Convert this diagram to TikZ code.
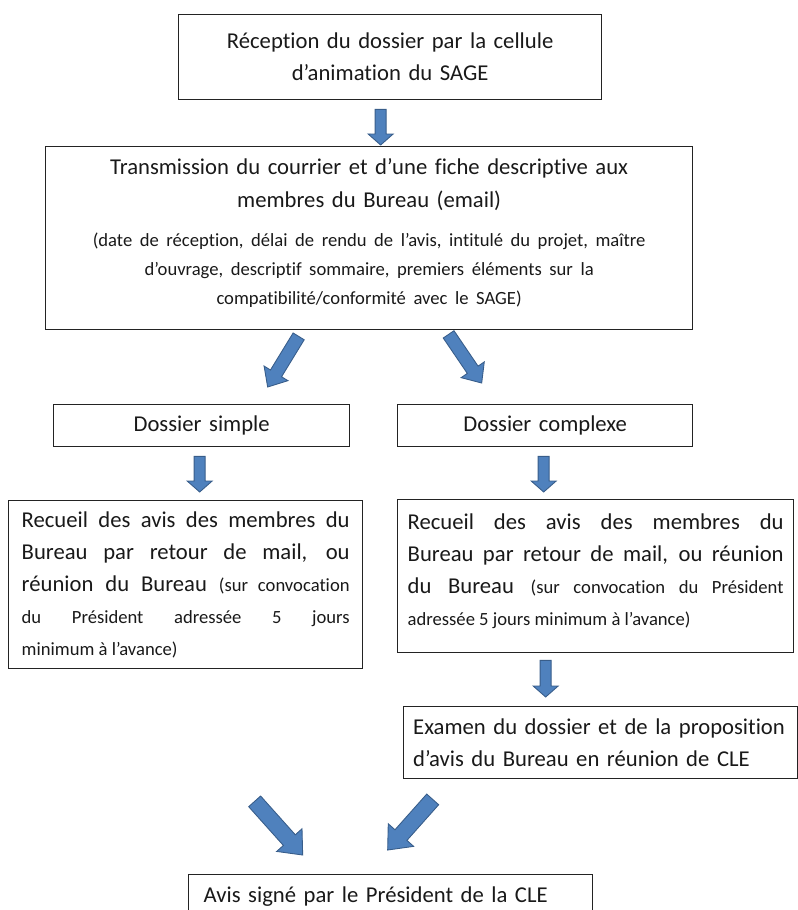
\documentclass[tikz,border=0pt]{standalone}
\usepackage{fontspec}
\setmainfont{Carlito}[Ligatures=NoCommon]
\usepackage{xcolor}
\usetikzlibrary{calc}
\definecolor{arrowblue}{RGB}{79,129,189}
\definecolor{arrowedge}{RGB}{56,93,138}
\definecolor{boxline}{RGB}{35,35,35}
\newcommand{\mainfnt}{\fontsize{12.9}{18.2}\selectfont}
\newcommand{\smallfnt}{\fontsize{10.6}{16.5}\selectfont}
\tolerance=10000
\hbadness=10000
\hfuzz=20pt

\begin{document}
\begin{tikzpicture}[x=0.02cm, y=-0.02cm]
	\tikzstyle{every node}=[font=\mainfnt, text=black!90]
	\tikzstyle{flowbox}=[draw=boxline, line width=0.8pt, anchor=north west, inner sep=0pt]
	% fat block arrow: shaft half width, head half width, head length
	\tikzset{fatarrow/.style n args={3}{draw=arrowedge, fill=arrowblue, line width=0.5pt,
		to path={($(\tikztostart)!#1!90:(\tikztotarget)$)
			-- ($(\tikztotarget)!#3!(\tikztostart)!#1!90:(\tikztotarget)$)
			-- ($(\tikztotarget)!#3!(\tikztostart)!#2!90:(\tikztotarget)$)
			-- (\tikztotarget)
			-- ($(\tikztotarget)!#3!(\tikztostart)!#2!-90:(\tikztotarget)$)
			-- ($(\tikztotarget)!#3!(\tikztostart)!#1!-90:(\tikztotarget)$)
			-- ($(\tikztostart)!#1!-90:(\tikztotarget)$) -- cycle}},
		downarrow/.style={fatarrow={0.11cm}{0.25cm}{0.22cm}},
		slantarrow/.style={fatarrow={0.13cm}{0.28cm}{0.32cm}},
		bigarrow/.style={fatarrow={0.16cm}{0.34cm}{0.40cm}}}
	\useasboundingbox (0,0) rectangle (798,910);
	\clip (0,0) rectangle (798,910);

	\node [flowbox, minimum width=8.46cm, minimum height=1.70cm, text width=8cm, align=center] (recep) at (178,14)
		{Réception du dossier par la cellule\\d’animation du SAGE};
	\node [flowbox, minimum width=12.94cm, minimum height=3.66cm, text width=12.5cm, align=center] (trans) at (45,146)
		{\baselineskip=18.8pt Transmission du courrier et d’une fiche descriptive aux\\membres du Bureau (email)\par
		\vspace{5.5pt}{\smallfnt (date de réception, délai de rendu de l’avis, intitulé du projet, maître\\d’ouvrage, descriptif sommaire, premiers éléments sur la\\compatibilité/conformité avec le SAGE)\par}\vspace{0.22cm}};
	\node [flowbox, minimum width=5.92cm, minimum height=0.84cm, text width=5.5cm, align=center] (simple) at (53,404) {Dossier simple};
	\node [flowbox, minimum width=5.90cm, minimum height=0.84cm, text width=5.5cm, align=center] (complexe) at (397,404) {Dossier complexe};
	\node [flowbox, minimum width=7.08cm, minimum height=3.36cm, text width=6.56cm, align=justify] (recueilA) at (8,500)
		{Recueil des avis des membres du\linebreak Bureau par retour de mail, ou\linebreak réunion du Bureau {\smallfnt (sur convocation\linebreak du Président adressée 5 jours\linebreak minimum à l’avance)}};
	\node [flowbox, minimum width=7.92cm, minimum height=3.06cm, text width=7.52cm, align=justify] (recueilB) at (397,499)
		{Recueil des avis des membres du\linebreak Bureau par retour de mail, ou réunion\linebreak du Bureau {\smallfnt (sur convocation du Président\linebreak adressée 5 jours minimum à l’avance)}\par\vspace{0.2cm}};
	\node [flowbox, minimum width=7.88cm, minimum height=1.44cm, text width=7.5cm, align=left] (examen) at (403,706)
		{Examen du dossier et de la proposition\\d’avis du Bureau en réunion de CLE};
	\node [flowbox, minimum width=8.08cm, minimum height=0.88cm, text width=7.48cm, align=left] (avis) at (188,874)
		{Avis signé par le Président de la CLE};

	\draw [downarrow] ([xshift=-0.19cm,yshift=-0.18cm]recep.south) to ([xshift=0.23cm,yshift=0.02cm]trans.north);
	\draw [slantarrow] ([xshift=-1.41cm,yshift=-0.12cm]trans.south) to ([xshift=1.32cm,yshift=0.34cm]simple.north);
	\draw [slantarrow] ([xshift=1.59cm,yshift=-0.08cm]trans.south) to ([xshift=-1.27cm,yshift=0.42cm]complexe.north);
	\draw [downarrow] ([xshift=-0.04cm,yshift=-0.18cm]simple.south) to ([xshift=0.28cm,yshift=0.16cm]recueilA.north);
	\draw [downarrow] ([xshift=-0.03cm,yshift=-0.18cm]complexe.south) to ([xshift=-1.04cm,yshift=0.14cm]recueilB.north);
	\draw [downarrow] ([xshift=-1.00cm,yshift=-0.14cm]recueilB.south) to ([xshift=-1.10cm,yshift=0.18cm]examen.north);
	\draw [bigarrow] ([xshift=1.38cm,yshift=-2.64cm]recueilA.south) to ([xshift=-1.76cm,yshift=0.38cm]avis.north);
	\draw [bigarrow] ([xshift=-3.36cm,yshift=-0.40cm]examen.south) to ([xshift=-0.06cm,yshift=0.48cm]avis.north);
\end{tikzpicture}
\end{document}
